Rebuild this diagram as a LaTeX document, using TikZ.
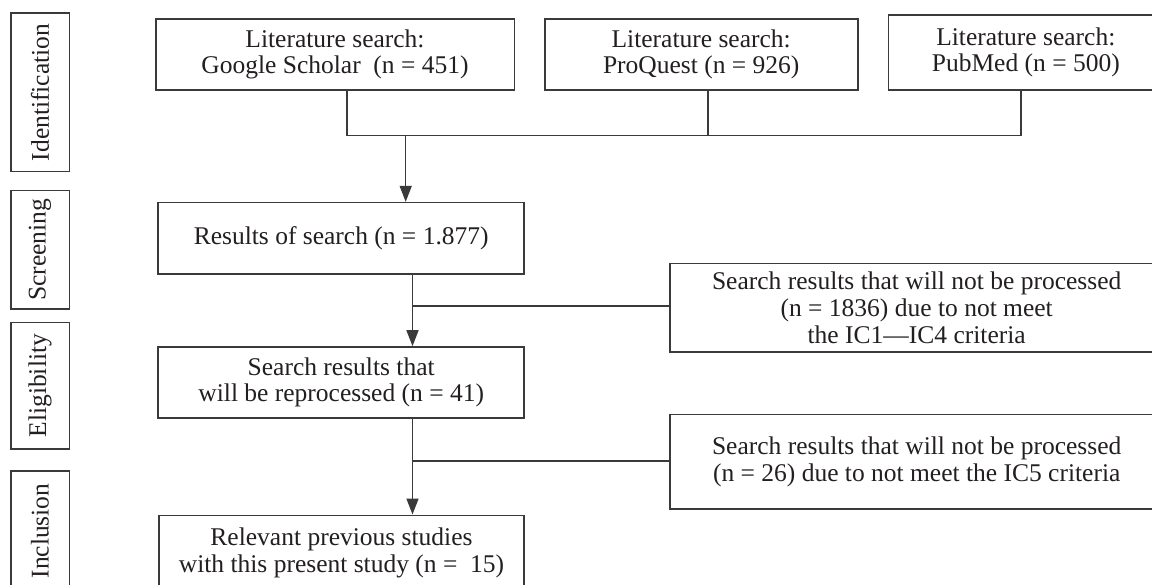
\documentclass[tikz,border=0pt]{standalone}
\usepackage{fontspec}
\setmainfont{Liberation Serif}
\usetikzlibrary{arrows.meta,calc}
\definecolor{linec}{HTML}{3A3A3A}
\definecolor{textc}{HTML}{231F20}
\tikzset{
  box/.style={draw=linec, line width=1.6pt, rectangle, inner sep=0pt, align=center,
    text=textc, font=\fontsize{25.5}{26.7}\selectfont},
  stage/.style={box, rotate=90},
  conn/.style={draw=linec, line width=1.5pt},
  arr/.style={conn, -{Triangle[length=16pt,width=12pt]}, shorten >=0pt}
}
\begin{document}
\begin{tikzpicture}[x=1pt,y=-1pt]
\useasboundingbox (0,0) rectangle (1152,585);
\clip (0,0) rectangle (1152,585);
% stage labels
\node[stage, minimum width=158.4, minimum height=58.6] (sid) at (40,92.5) {Identification};
\node[stage, minimum width=118.6, minimum height=58.6] (ssc) at (40,250) {Screening};
\node[stage, minimum width=126.7, minimum height=58.6] (sel) at (40,385.7) {Eligibility};
\node[stage, minimum width=120, minimum height=58.6] (sin) at (40,531) {Inclusion};
% top boxes
\node[box, minimum width=358.6, minimum height=71] (gs) at (335,54.5) {Literature search:\\Google Scholar\ \ (n = 451)};
\node[box, minimum width=313, minimum height=71] (pq) at (701.2,54.5) {Literature search:\\ProQuest (n = 926)};
\node[box, minimum width=275, minimum height=75] (pm) at (1025.8,52.5) {Literature search:\\PubMed (n = 500)};
% main column
\node[box, minimum width=366, minimum height=71.3] (res) at (341.2,238.3) {Results of search (n = 1.877)};
\node[box, minimum width=366, minimum height=71] (elig) at (341.2,382.5) {Search results that\\will be reprocessed (n = 41)};
\node[box, minimum width=365, minimum height=75] (incl) at (341.5,552.8) {Relevant previous studies\\with this present study (n =\ \ 15)};
% exclusion boxes
\node[box, minimum width=493, minimum height=88.7] (ex1) at (916.7,307.7) {Search results that will not be processed\\(n = 1836) due to not meet\\the IC1—IC4 criteria};
\node[box, minimum width=493, minimum height=94] (ex2) at (916.7,461.7) {Search results that will not be processed\\(n = 26) due to not meet the IC5 criteria};
% connectors
\coordinate (hl) at (346.8,135.5);
\coordinate (hr) at (1021,135.5);
\coordinate (hq) at (707.8,135.5);
\coordinate (a1) at (405.7,135.5);
\draw[conn] (gs.south -| hl) -- (hl) -- (hr) -- (pm.south -| hr);
\draw[conn] (pq.south -| hq) -- (hq);
\draw[arr] (a1) -- (res.north -| a1);
\coordinate (b1) at (412.5,306);
\draw[conn] (res.south -| b1) -- (b1) -- (b1 -| ex1.west);
\draw[arr] (b1) -- (elig.north -| b1);
\coordinate (b2) at (412.5,461);
\draw[conn] (elig.south -| b2) -- (b2) -- (b2 -| ex2.west);
\draw[arr] (b2) -- (incl.north -| b2);
\end{tikzpicture}
\end{document}
